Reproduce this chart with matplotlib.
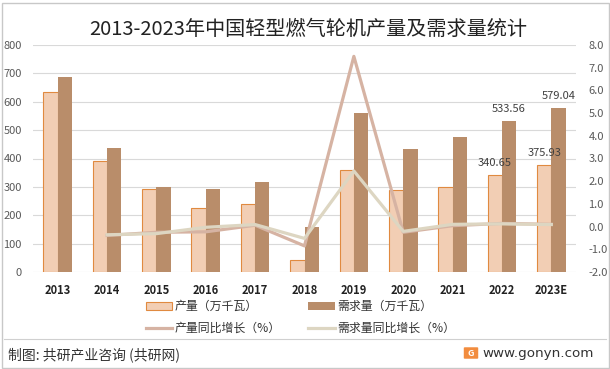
import matplotlib
matplotlib.use('Agg')
import matplotlib.pyplot as plt
from matplotlib.patches import Rectangle, FancyBboxPatch
from matplotlib.lines import Line2D
import numpy as np

plt.rcParams['font.family'] = ['Noto Sans CJK SC', 'DejaVu Sans']
plt.rcParams['axes.unicode_minus'] = False

# data
years = ['2013', '2014', '2015', '2016', '2017', '2018', '2019', '2020', '2021', '2022', '2023E']
production = [634, 390, 291, 224, 238, 42, 358, 288, 298, 340.65, 375.93]
demand = [687, 437, 300, 292, 317, 158, 560, 433, 476, 533.56, 579.04]
# yoy growth, starts in 2014
prod_growth = [-0.39, -0.25, -0.23, 0.06, -0.85, 7.5, -0.25, 0.04, 0.14, 0.10]
demand_growth = [-0.36, -0.31, -0.03, 0.09, -0.52, 2.45, -0.21, 0.10, 0.12, 0.09]
labelled = {9: (340.65, 533.56), 10: (375.93, 579.04)}

W, H = 610, 369
fig = plt.figure(figsize=(W / 100, H / 100), dpi=100)
ax = fig.add_axes([33 / W, 1 - 272 / H, (576 - 33) / W, (272 - 45) / H])
ax2 = ax.twinx()

x = np.arange(len(years))
bw = 0.29
b1 = ax.bar(x - bw / 2, production, bw, color='#F2CEB4', edgecolor='#E08A40', linewidth=0.8,
            label='产量（万千瓦）', zorder=2)
b2 = ax.bar(x + bw / 2, demand, bw, color='#B98D6A', edgecolor='none',
            label='需求量（万千瓦）', zorder=2)

for i, (p, d) in labelled.items():
    ax.text(i - bw / 2, p + 25, f'{p:.2f}', ha='center', va='bottom', fontsize=8, color='#404040')
    ax.text(i + bw / 2, d + 25, f'{d:.2f}', ha='center', va='bottom', fontsize=8, color='#404040')

l1, = ax2.plot(x[1:], prod_growth, color='#D6B3A3', linewidth=2.3, label='产量同比增长（%）')
l2, = ax2.plot(x[1:], demand_growth, color='#DDD6C2', linewidth=2.3, label='需求量同比增长（%）')

ax.set_xlim(-0.5, 10.5)
ax.set_ylim(0, 800)
ax.set_yticks(range(0, 801, 100))
ax2.set_ylim(-2, 8)
ax2.set_yticks(np.arange(-2, 8.1, 1))
ax2.set_yticklabels([f'{v:.1f}' for v in np.arange(-2, 8.1, 1)])

ax.yaxis.grid(True, color='#D9D9D9', linewidth=0.8, zorder=0)
ax.set_axisbelow(True)
for a in (ax, ax2):
    for s in a.spines.values():
        s.set_visible(False)
ax.tick_params(axis='y', length=0, pad=8, labelsize=8, labelcolor='#595959')
ax2.tick_params(axis='y', length=0, pad=9, labelsize=8, labelcolor='#595959')
ax.set_xticks(x)
ax.set_xticklabels(years, fontsize=8, fontweight='bold', color='#222222')
ax.tick_params(axis='x', length=0, pad=9)

fig.text(308 / W, 1 - 29 / H, '2013-2023年中国轻型燃气轮机产量及需求量统计',
         ha='center', va='center', fontsize=14.5, color='#222222')

# column-wise fill: bars on row 1, lines on row 2
fig.legend([b1, l1, b2, l2], [b1.get_label(), l1.get_label(), b2.get_label(), l2.get_label()],
           ncol=2, loc='upper left', bbox_to_anchor=(146 / W, 1 - 300 / H),
           frameon=False, fontsize=8.6, borderpad=0, borderaxespad=0,
           handlelength=2.2, handletextpad=0.2, columnspacing=2.3, labelspacing=0.75,
           labelcolor='#333333')

fig.add_artist(Line2D([4 / W, 606 / W], [1 - 338.5 / H, 1 - 338.5 / H], color='#D0D0D0', linewidth=0.8))
fig.text(8 / W, 1 - 355 / H, '制图: 共研产业咨询 (共研网)', ha='left', va='center',
         fontsize=10, color='#333333')
fig.add_artist(FancyBboxPatch((465 / W, 1 - 358 / H), 12 / W, 10 / H,
                              boxstyle='round,pad=0.002', transform=fig.transFigure,
                              facecolor='#F28C3E', edgecolor='none'))
fig.text(471 / W, 1 - 353 / H, 'G', ha='center', va='center', fontsize=6.5,
         fontweight='bold', color='white')
fig.text(482 / W, 1 - 353 / H, 'www.gonyn.com', ha='left', va='center',
         fontsize=9.7, color='#333333', family=['DejaVu Sans'])

fig.add_artist(Rectangle((1.5 / W, 1.5 / H), 1 - 3 / W, 1 - 4 / H, transform=fig.transFigure,
                         fill=False, edgecolor='#C8C8C8', linewidth=1))

fig.savefig('out.png', dpi=100)
